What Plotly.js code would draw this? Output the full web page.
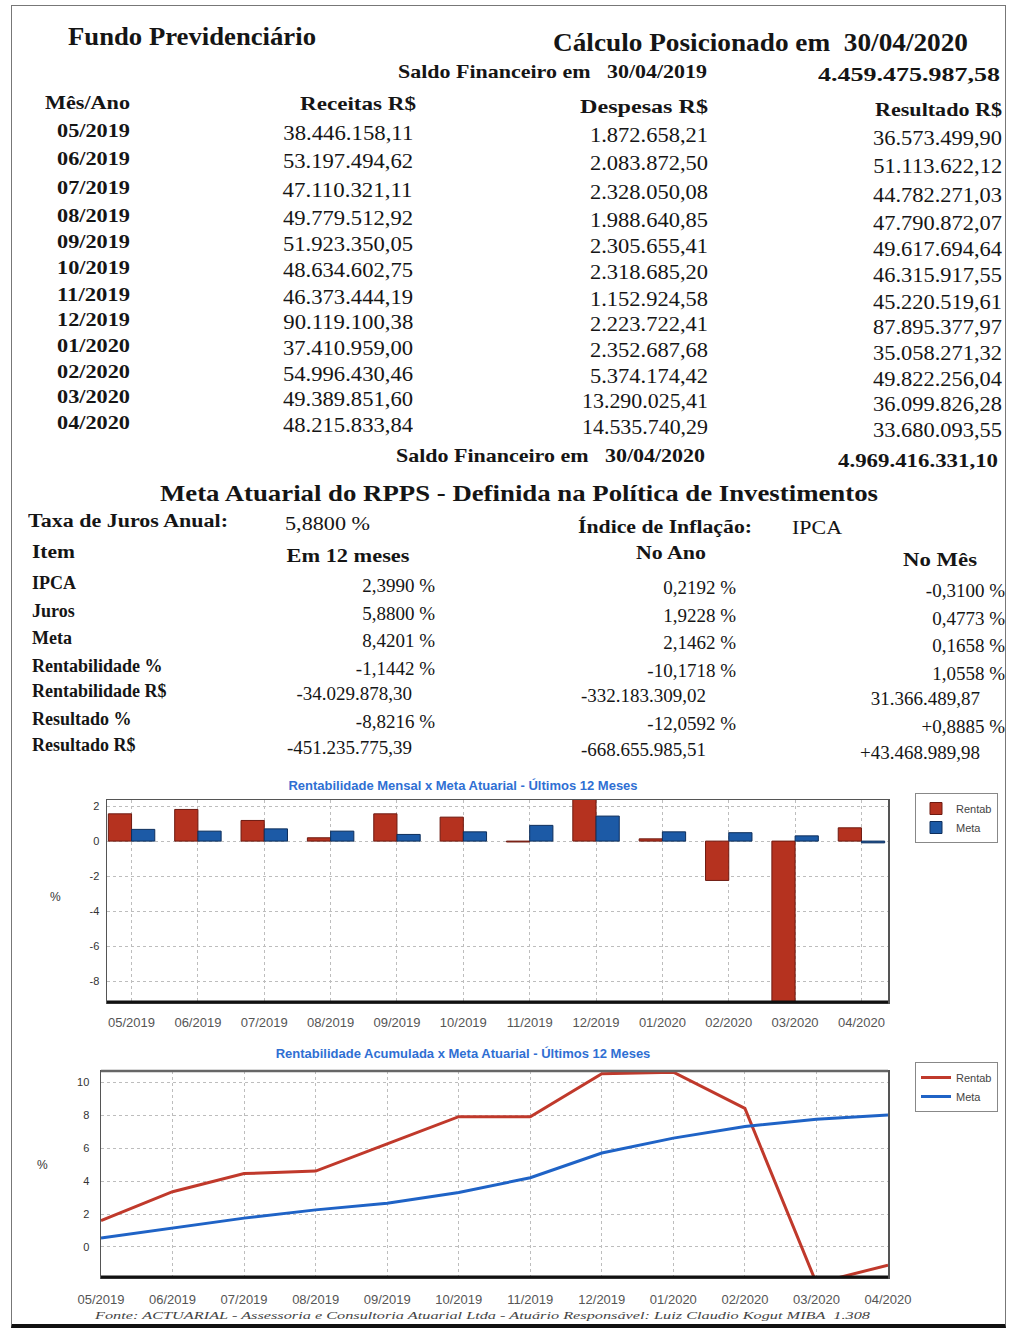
<!DOCTYPE html>
<html><head><meta charset="utf-8">
<script src="https://cdn.plot.ly/plotly-3.0.1.min.js"></script>
<style>
html,body{margin:0;padding:0;background:#fff;}
#page{position:relative;width:1010px;height:1329px;overflow:hidden;background:#fff;font-family:"Liberation Serif","Times New Roman",serif;color:#151515;}
.t{position:absolute;white-space:pre;line-height:1;}
#bar,#line{position:absolute;left:0;width:1010px;}
#bar{top:775px;height:260px;}
#line{top:1040px;height:289px;}
#frame{position:absolute;left:11px;top:5px;width:993px;height:1318px;border:1px solid #777;border-bottom:4px solid #111;}
</style></head><body>
<div id="page"><div id="frame"></div><div id="bar"></div><div id="line"></div></div>
<script>
// ---------------- DATA ----------------
const months = ['05/2019','06/2019','07/2019','08/2019','09/2019','10/2019','11/2019','12/2019','01/2020','02/2020','03/2020','04/2020'];
const receitas = ['38.446.158,11','53.197.494,62','47.110.321,11','49.779.512,92','51.923.350,05','48.634.602,75','46.373.444,19','90.119.100,38','37.410.959,00','54.996.430,46','49.389.851,60','48.215.833,84'];
const despesas = ['1.872.658,21','2.083.872,50','2.328.050,08','1.988.640,85','2.305.655,41','2.318.685,20','1.152.924,58','2.223.722,41','2.352.687,68','5.374.174,42','13.290.025,41','14.535.740,29'];
const resultado = ['36.573.499,90','51.113.622,12','44.782.271,03','47.790.872,07','49.617.694,64','46.315.917,55','45.220.519,61','87.895.377,97','35.058.271,32','49.822.256,04','36.099.826,28','33.680.093,55'];
const saldoInicial = ['Saldo Financeiro em   30/04/2019', '4.459.475.987,58'];
const saldoFinal = ['Saldo Financeiro em   30/04/2020', '4.969.416.331,10'];
const tableHeaders = ['Mês/Ano', 'Receitas R$', 'Despesas R$', 'Resultado R$'];

const metaItems = ['IPCA','Juros','Meta','Rentabilidade %','Rentabilidade R$','Resultado %','Resultado R$'];
const metaHeaders = ['Item','Em 12 meses','No Ano','No Mês'];
const em12meses = ['2,3990 %','5,8800 %','8,4201 %','-1,1442 %','-34.029.878,30','-8,8216 %','-451.235.775,39'];
const noAno = ['0,2192 %','1,9228 %','2,1462 %','-10,1718 %','-332.183.309,02','-12,0592 %','-668.655.985,51'];
const noMes = ['-0,3100 %','0,4773 %','0,1658 %','1,0558 %','31.366.489,87','+0,8885 %','+43.468.989,98'];

// monthly chart (%)
const rentabMensal = [1.56, 1.81, 1.18, 0.19, 1.56, 1.37, -0.05, 2.38, 0.13, -2.25, -9.3, 0.76];
const metaMensal   = [0.67, 0.57, 0.70, 0.57, 0.38, 0.53, 0.90, 1.43, 0.53, 0.48, 0.30, -0.10];
// accumulated chart (%)
const rentabAcum = [1.6, 3.35, 4.45, 4.6, 6.25, 7.9, 7.9, 10.5, 10.6, 8.4, -2.2, -1.1];
const metaAcum   = [0.55, 1.15, 1.75, 2.25, 2.65, 3.3, 4.2, 5.7, 6.6, 7.3, 7.75, 8.0];
const seriesNames = ['Rentab', 'Meta'];
const yTicksMensal = [-8, -6, -4, -2, 0, 2];
const yTicksAcum = [0, 2, 4, 6, 8, 10];

// ---------------- TEXT LAYER ----------------
const page = document.getElementById('page');
function place(txt, x, y, o) {
  o = o || {};
  const s = o.size || 20;
  const d = document.createElement('div');
  d.className = 't';
  d.textContent = txt;
  d.style.fontSize = s + 'px';
  d.style.fontWeight = o.bold ? '700' : '400';
  if (o.italic) d.style.fontStyle = 'italic';
  if (o.color) d.style.color = o.color;
  d.style.top = (y - 0.51 * s) + 'px';
  if (o.align === 'r') {
    d.style.right = (1010 - x) + 'px';
    d.style.transformOrigin = 'right center';
  } else if (o.align === 'c') {
    d.style.left = x + 'px';
  } else {
    d.style.left = x + 'px';
    d.style.transformOrigin = 'left center';
  }
  page.appendChild(d);
  let k = 1;
  if (o.width) k = o.width / d.getBoundingClientRect().width;
  d.style.transform = (o.align === 'c' ? 'translateX(-50%) ' : '') + 'scaleX(' + k + ')';
  return d;
}
const SKEW = 0.008;

// header
place('Fundo Previdenciário', 68, 37, {bold:true, size:25, width:248});
place('Cálculo Posicionado em  30/04/2020', 553, 43, {bold:true, size:26, width:415});
place(saldoInicial[0], 398, 72, {bold:true, size:19, width:309});
place(saldoInicial[1], 1000, 75, {bold:true, size:19, align:'r', width:182});

place(tableHeaders[0], 45, 103, {bold:true, size:19, width:85});
place(tableHeaders[1], 300, 104, {bold:true, size:19, width:116});
place(tableHeaders[2], 580, 107, {bold:true, size:19, width:128});
place(tableHeaders[3], 875, 110, {bold:true, size:19, width:127});

const ROW_Y = [131,159,188,216,242,268,295,320,346,372,397,423];
months.forEach((m, i) => {
  const y = ROW_Y[i];
  place(m, 57, y, {bold:true, size:19, width:73});
  place(receitas[i], 413, y + SKEW * (350 - 90), {size:20, align:'r', width:130});
  place(despesas[i], 708, y + SKEW * (650 - 90), {size:20, align:'r', width: despesas[i].length > 12 ? 126 : 118});
  place(resultado[i], 1002, y + SKEW * (940 - 90), {size:20, align:'r', width:129});
});
place(saldoFinal[0], 396, 456, {bold:true, size:19, width:309});
place(saldoFinal[1], 998, 461, {bold:true, size:19, align:'r', width:160});

// meta section
place('Meta Atuarial do RPPS - Definida na Política de Investimentos', 519, 493, {bold:true, size:24, align:'c', width:718});
place('Taxa de Juros Anual:', 28, 521, {bold:true, size:18, width:200});
place('5,8800 %', 285, 524, {size:19, width:85});
place('Índice de Inflação:', 578, 527, {bold:true, size:18, width:174});
place('IPCA', 792, 528, {size:19, width:50});

place(metaHeaders[0], 32, 552, {bold:true, size:18, width:43});
place(metaHeaders[1], 348, 556, {bold:true, size:18, align:'c', width:123});
place(metaHeaders[2], 671, 553, {bold:true, size:18, align:'c', width:70});
place(metaHeaders[3], 940, 560, {bold:true, size:18, align:'c', width:74});

const META_Y = [583,611,638,666,691,719,745];
metaItems.forEach((lab, i) => {
  const y = META_Y[i];
  const isRS = lab.indexOf('R$') >= 0;
  place(lab, 32, y, {bold:true, size:18});
  place(em12meses[i], isRS ? 412 : 435, y + SKEW * 330, {size:19, align:'r'});
  place(noAno[i], isRS ? 706 : 736, y + SKEW * 640, {size:19, align:'r'});
  place(noMes[i], isRS ? 980 : 1005, y + SKEW * 920, {size:19, align:'r'});
});

place('Fonte: ACTUARIAL - Assessoria e Consultoria Atuarial Ltda - Atuário Responsável: Luiz Claudio Kogut MIBA  1.308', 95, 1316, {italic:true, size:11, width:775, color:'#444'});

// ---------------- CHARTS ----------------
const red = '#b5321f', blue = '#1c5aa6';
const fam = 'Liberation Sans, Arial, sans-serif';
const gridAxis = {showgrid:true, gridcolor:'#bdbdbd', griddash:'dot', gridwidth:1, zeroline:false,
  showline:true, mirror:true, linecolor:'#555', linewidth:1.5, ticks:''};
const xTickFont = {family:fam, size:13, color:'#555'};
const yTickFont = {family:fam, size:11, color:'#333'};
const asText = v => v.map(n => String(n));

const barLayout = {
  width:1010, height:260, margin:{l:107, r:122, t:25, b:33},
  paper_bgcolor:'rgba(0,0,0,0)', plot_bgcolor:'#fff',
  title:{text:'Rentabilidade Mensal x Meta Atuarial - Últimos 12 Meses', x:463/1010, xanchor:'center', y:1-10/260, yanchor:'middle',
    font:{family:fam, size:13, color:'#2f6fd3', weight:'bold'}},
  barmode:'group', bargap:0.3, bargroupgap:0,
  xaxis: Object.assign({}, gridAxis, {type:'category', range:[-0.37, 11.4], tickfont:xTickFont, ticklabelstandoff:8}),
  yaxis: Object.assign({}, gridAxis, {range:[-9.2, 2.35], tickvals:yTicksMensal, ticktext:asText(yTicksMensal), tickfont:yTickFont, ticklabelstandoff:4}),
  showlegend:true,
  legend:{x:(915-107)/781, y:(1002-793)/202, xanchor:'left', yanchor:'top', bordercolor:'#888', borderwidth:1,
    bgcolor:'#fff', font:{family:fam, size:11, color:'#444'}, itemwidth:30, tracegroupgap:0},
  shapes:[{type:'line', xref:'paper', yref:'paper', x0:0, x1:1, y0:0, y1:0, line:{color:'#111', width:3}}],
  annotations:[{text:'%', xref:'paper', yref:'paper', x:(48-107)/781, y:(1002-897)/202, showarrow:false,
    font:{family:fam, size:12, color:'#333'}}]
};
const barData = [
  {type:'bar', x:months, y:rentabMensal, name:seriesNames[0], marker:{color:red, line:{color:'#6e1a10', width:1}}},
  {type:'bar', x:months, y:metaMensal, name:seriesNames[1], marker:{color:blue, line:{color:'#0e2f5c', width:1}}}
];
Plotly.newPlot('bar', barData, barLayout, {displayModeBar:false, staticPlot:true});

const lineLayout = {
  width:1010, height:289, margin:{l:101, r:122, t:31, b:52},
  paper_bgcolor:'rgba(0,0,0,0)', plot_bgcolor:'#fff',
  title:{text:'Rentabilidade Acumulada x Meta Atuarial - Últimos 12 Meses', x:463/1010, xanchor:'center', y:1-13/289, yanchor:'middle',
    font:{family:fam, size:13, color:'#2f6fd3', weight:'bold'}},
  xaxis: Object.assign({}, gridAxis, {type:'category', range:[0, 11], tickfont:xTickFont, ticklabelstandoff:10}),
  yaxis: Object.assign({}, gridAxis, {range:[-1.82, 10.67], tickvals:yTicksAcum, ticktext:asText(yTicksAcum), tickfont:yTickFont, ticklabelstandoff:8}),
  showlegend:true,
  legend:{x:(915-101)/787, y:(1277-1062)/206, xanchor:'left', yanchor:'top', bordercolor:'#888', borderwidth:1,
    bgcolor:'#fff', font:{family:fam, size:11, color:'#444'}, itemwidth:30, tracegroupgap:0},
  shapes:[{type:'line', xref:'paper', yref:'paper', x0:0, x1:1, y0:0, y1:0, line:{color:'#111', width:3}},
          {type:'line', xref:'paper', yref:'paper', x0:0, x1:1, y0:1, y1:1, line:{color:'#666', width:2.5}}],
  annotations:[{text:'%', xref:'paper', yref:'paper', x:(35-101)/787, y:(1277-1165)/206, showarrow:false,
    font:{family:fam, size:12, color:'#333'}}]
};
const lineData = [
  {type:'scatter', mode:'lines', x:months, y:rentabAcum, name:seriesNames[0], line:{color:'#c0392b', width:3}},
  {type:'scatter', mode:'lines', x:months, y:metaAcum, name:seriesNames[1], line:{color:'#1f63c6', width:3}}
];
Plotly.newPlot('line', lineData, lineLayout, {displayModeBar:false, staticPlot:true});
</script>
</body></html>
